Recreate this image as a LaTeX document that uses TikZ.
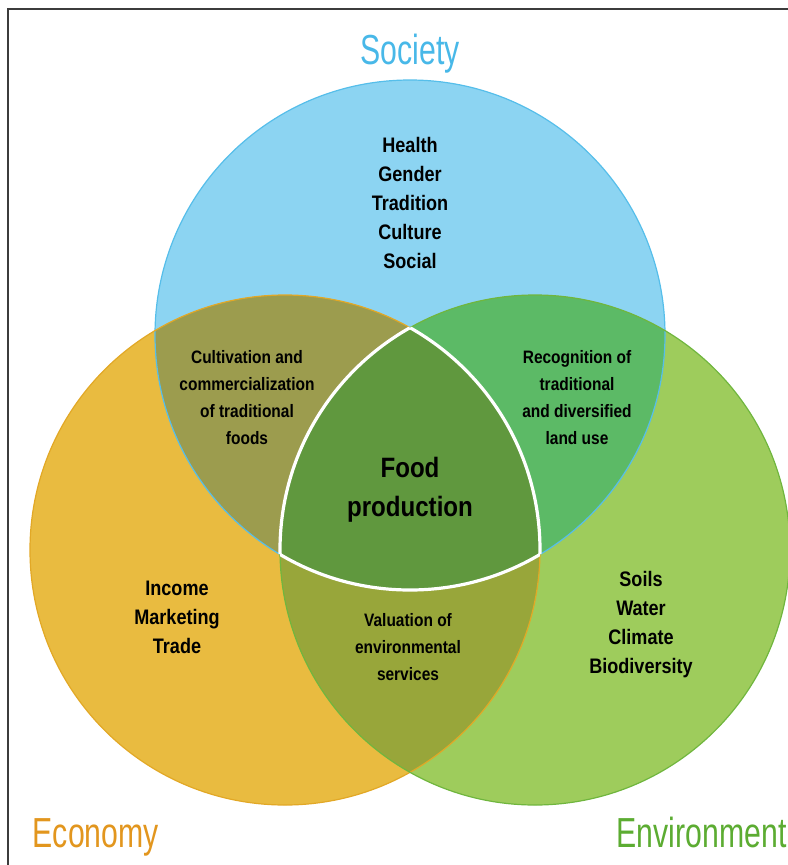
\documentclass[tikz,border=0pt]{standalone}
\usepackage{fontspec}
\setmainfont{Liberation Sans}
\newfontfamily\labelfont{Liberation Sans}[FakeStretch=0.86]
\newfontfamily\titlefont{Liberation Sans}[FakeStretch=0.72]

\definecolor{socblue}{RGB}{140,212,242}
\definecolor{socedge}{RGB}{86,190,234}
\definecolor{ecoyellow}{RGB}{233,187,64}
\definecolor{ecoedge}{RGB}{226,168,38}
\definecolor{envgreen}{RGB}{158,204,92}
\definecolor{envedge}{RGB}{112,182,62}
\definecolor{soceco}{RGB}{156,156,78}
\definecolor{socenv}{RGB}{92,186,102}
\definecolor{ecoenv}{RGB}{152,166,58}
\definecolor{core}{RGB}{96,152,62}
\definecolor{framegray}{RGB}{60,60,60}
\definecolor{soctitle}{RGB}{72,184,232}
\definecolor{ecotitle}{RGB}{226,150,30}
\definecolor{envtitle}{RGB}{92,172,50}

\begin{document}
\begin{tikzpicture}[x=0.75pt, y=-0.75pt,
    item/.style={font=\labelfont\bfseries\fontsize{15.75}{21.75}\selectfont, align=center},
    overlap/.style={font=\labelfont\bfseries\fontsize{13.5}{20.25}\selectfont, align=center},
    title/.style={font=\titlefont\fontsize{31.5}{36}\selectfont, anchor=base west}
]
\useasboundingbox (0,0) rectangle (788,865);
\clip (0,0) rectangle (788,865);

% outer frame (only top and left edge on the page)
\draw[framegray, line width=1.1pt] (8,9) rectangle (830,900);

\def\r{255}
\coordinate (soc) at (410,335);
\coordinate (eco) at (285,550);
\coordinate (env) at (535,550);

% the three circles
\fill[socblue] (soc) circle (\r);
\fill[ecoyellow] (eco) circle (\r);
\fill[envgreen] (env) circle (\r);

% pairwise overlaps
\begin{scope}
    \clip (soc) circle (\r);
    \fill[soceco] (eco) circle (\r);
    \fill[socenv] (env) circle (\r);
\end{scope}
\begin{scope}
    \clip (eco) circle (\r);
    \fill[ecoenv] (env) circle (\r);
\end{scope}

% common part
\begin{scope}
    \clip (soc) circle (\r);
    \clip (eco) circle (\r);
    \fill[core] (env) circle (\r);
\end{scope}

% circle edges
\draw[socedge, line width=0.9pt] (soc) circle (\r);
\draw[ecoedge, line width=0.9pt] (eco) circle (\r);
\draw[envedge, line width=0.9pt] (env) circle (\r);

% white rim of the common part
\foreach \a/\b/\c in {eco/env/soc, soc/env/eco, soc/eco/env} {
    \begin{scope}
        \clip (\a) circle (\r);
        \clip (\b) circle (\r);
        \draw[white, line width=2.4pt] (\c) circle (\r);
    \end{scope}
}

% headings
\node[title, text=soctitle, anchor=base] (society) at (410,64) {Society};
\node[title, text=ecotitle] (economy) at (28,847) {Economy};
\node[title, text=envtitle] (environment) at (612,847) {Environment};

% circle contents
\node[item] (socitems) at (410,203) {Health\\Gender\\Tradition\\Culture\\Social};
\node[item] (ecoitems) at (177,617) {Income\\Marketing\\Trade};
\node[item] (envitems) at (641,625) {Soils\\Water\\Climate\\Biodiversity};

% overlaps
\node[overlap] (socecotext) at (247,398) {Cultivation and\\commercialization\\of traditional\\foods};
\node[overlap] (socenvtext) at (577,398) {Recognition of\\traditional\\and diversified\\land use};
\node[overlap] (ecoenvtext) at (408,647) {Valuation of\\environmental\\services};
\node[font=\labelfont\bfseries\fontsize{21}{29}\selectfont, align=center] (food) at (410,490) {Food\\production};
\end{tikzpicture}
\end{document}
